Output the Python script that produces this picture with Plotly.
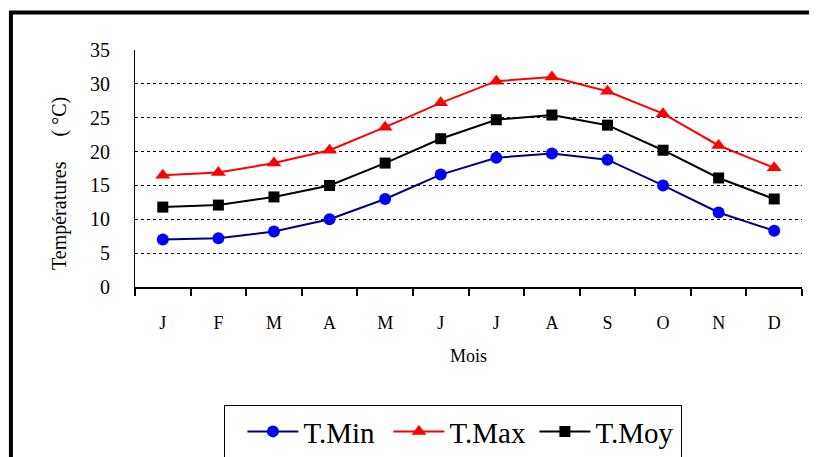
import plotly.graph_objects as go

months = ["J", "F", "M", "A", "M", "J", "J", "A", "S", "O", "N", "D"]
t_min = [7.0, 7.2, 8.2, 10.0, 13.0, 16.6, 19.1, 19.7, 18.8, 15.0, 11.0, 8.3]
t_max = [16.5, 16.9, 18.3, 20.2, 23.6, 27.2, 30.4, 31.0, 28.9, 25.6, 20.9, 17.6]
t_moy = [11.8, 12.1, 13.3, 15.0, 18.3, 21.9, 24.7, 25.4, 23.9, 20.2, 16.1, 13.0]

x = list(range(len(months)))
FONT = "Liberation Serif, Times New Roman, serif"

fig = go.Figure()
fig.add_trace(go.Scatter(x=x, y=t_min, name="T.Min", mode="lines+markers",
                         line=dict(color="#000080", width=2),
                         marker=dict(symbol="circle", size=12, color="#0000FF",
                                     line=dict(width=0))))
fig.add_trace(go.Scatter(x=x, y=t_max, name="T.Max", mode="lines+markers",
                         line=dict(color="#FF0000", width=2),
                         marker=dict(symbol="triangle-up", size=13, color="#FF0000",
                                     line=dict(width=0))))
fig.add_trace(go.Scatter(x=x, y=t_moy, name="T.Moy", mode="lines+markers",
                         line=dict(color="#000000", width=2),
                         marker=dict(symbol="square", size=11, color="#000000",
                                     line=dict(width=0))))

fig.update_layout(
    width=809, height=449,
    margin=dict(l=127, r=15, t=42, b=170, autoexpand=False),
    paper_bgcolor="white", plot_bgcolor="white",
    font=dict(family=FONT, color="black", size=18),
    showlegend=True,
    legend=dict(orientation="h", x=0.477, xanchor="center", y=-0.498, yanchor="top",
                bordercolor="black", borderwidth=1, bgcolor="white",
                font=dict(family=FONT, size=29, color="black"),
                itemwidth=51, entrywidth=80, entrywidthmode="pixels",
                title=dict(text="\u00a0", side="left",
                           font=dict(family=FONT, size=29))),
    xaxis=dict(range=[-0.5, 11.5], tickmode="array", tickvals=x, ticktext=months,
               ticks="", showgrid=False, zeroline=False,
               showline=True, linecolor="black", linewidth=2,
               ticklabelstandoff=18,
               tickfont=dict(family=FONT, size=18, color="black"),
               minor=dict(tick0=-0.5, dtick=1, ticks="outside", ticklen=7,
                          tickwidth=1.5, tickcolor="black", showgrid=False),
               title=dict(text="Mois", font=dict(family=FONT, size=18, color="black"),
                          standoff=18)),
    yaxis=dict(range=[0, 35], dtick=5, tick0=0, showgrid=True, gridcolor="black",
               gridwidth=1, griddash="dot", zeroline=False,
               showline=True, linecolor="black", linewidth=1,
               ticks="", ticklabelstandoff=20,
               tickfont=dict(family=FONT, size=20, color="black")),
)

fig.add_annotation(text="Températures\u00a0\u00a0\u00a0\u00a0\u00a0(\u00a0°C)",
                   xref="paper", yref="paper", x=-0.1124, y=0.4346,
                   xanchor="center", yanchor="middle", textangle=-90,
                   showarrow=False, font=dict(family=FONT, size=20, color="black"))

fig.add_shape(type="rect", xref="paper", yref="paper",
              x0=-0.186, x1=1.1, y0=-0.9, y1=1.158,
              line=dict(color="black", width=4), fillcolor="rgba(0,0,0,0)",
              layer="above")

fig.write_html("out.html")
